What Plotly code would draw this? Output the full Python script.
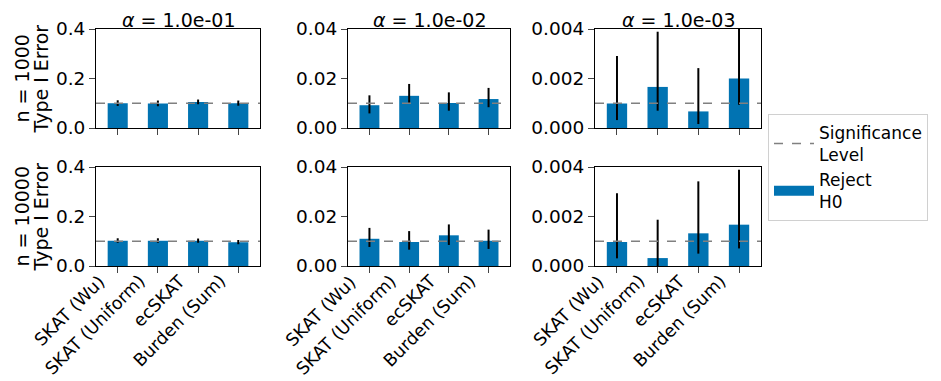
import plotly.graph_objects as go

methods = ["SKAT (Wu)", "SKAT (Uniform)", "ecSKAT", "Burden (Sum)"]
alphas = [1e-1, 1e-2, 1e-3]
alpha_titles = ["<i>α</i> = 1.0e-01", "<i>α</i> = 1.0e-02", "<i>α</i> = 1.0e-03"]
row_n_labels = ["n = 1000", "n = 10000"]
row_y_label = "Type I Error"

# n = 1000
n1000_a1 = [0.100, 0.099, 0.105, 0.100]
n1000_a1_lo = [0.089, 0.088, 0.096, 0.090]
n1000_a1_hi = [0.112, 0.111, 0.115, 0.111]
n1000_a2 = [0.0092, 0.0130, 0.0101, 0.0117]
n1000_a2_lo = [0.0059, 0.0101, 0.0070, 0.0084]
n1000_a2_hi = [0.0132, 0.0178, 0.0144, 0.0162]
n1000_a3 = [0.00099, 0.00166, 0.00067, 0.00200]
n1000_a3_lo = [0.00032, 0.00070, 0.00016, 0.00094]
n1000_a3_hi = [0.00291, 0.00389, 0.00242, 0.00400]
# n = 10000
n10000_a1 = [0.102, 0.102, 0.102, 0.096]
n10000_a1_lo = [0.094, 0.094, 0.094, 0.088]
n10000_a1_hi = [0.112, 0.112, 0.111, 0.105]
n10000_a2 = [0.0110, 0.0097, 0.0124, 0.0102]
n10000_a2_lo = [0.0077, 0.0066, 0.0085, 0.0069]
n10000_a2_hi = [0.0154, 0.0141, 0.0168, 0.0147]
n10000_a3 = [0.00097, 0.00032, 0.00132, 0.00167]
n10000_a3_lo = [0.00031, 0.00000, 0.00050, 0.00071]
n10000_a3_hi = [0.00294, 0.00187, 0.00342, 0.00389]

y_ranges = [[0, 0.4], [0, 0.04], [0, 0.004]]
y_ticks = [[0, 0.2, 0.4], [0, 0.02, 0.04], [0, 0.002, 0.004]]
y_fmt = [".1f", ".2f", ".3f"]

data = [
    [(n1000_a1, n1000_a1_lo, n1000_a1_hi), (n1000_a2, n1000_a2_lo, n1000_a2_hi), (n1000_a3, n1000_a3_lo, n1000_a3_hi)],
    [(n10000_a1, n10000_a1_lo, n10000_a1_hi), (n10000_a2, n10000_a2_lo, n10000_a2_hi), (n10000_a3, n10000_a3_lo, n10000_a3_hi)],
]

W, H = 941, 381
col_px = [(88, 252), (340, 502), (587, 753)]
row_px = [(21, 120), (159, 258)]
BAR = "#0173B2"
FONT = "DejaVu Sans"
TICK_FS = 18.5
XTICK_FS = 17.5
LABEL_FS = 19

fig = go.Figure()
layout = dict(
    width=W, height=H, margin=dict(l=0, r=0, t=0, b=0),
    plot_bgcolor="white", paper_bgcolor="white",
    font=dict(family=FONT, size=TICK_FS, color="black"),
    showlegend=True,
    legend=dict(x=760 / W, y=1 - 106 / H, xanchor="left", yanchor="top",
                bordercolor="#d0d0d0", borderwidth=1, bgcolor="white",
                font=dict(size=17), itemwidth=40),
)
annotations = []
shapes = []
xpos = list(range(len(methods)))

for r in range(2):
    for c in range(3):
        idx = r * 3 + c + 1
        xa = "x" if idx == 1 else f"x{idx}"
        ya = "y" if idx == 1 else f"y{idx}"
        vals, lo, hi = data[r][c]
        fig.add_trace(go.Bar(
            x=xpos, y=vals, xaxis=xa, yaxis=ya, marker_color=BAR,
            marker_line_width=0, width=0.5, showlegend=False,
            error_y=dict(type="data", symmetric=False,
                         array=[h - v for h, v in zip(hi, vals)],
                         arrayminus=[v - l for v, l in zip(vals, lo)],
                         color="black", thickness=2, width=0),
        ))
        x0, x1 = col_px[c]
        t0, t1 = row_px[r]
        xkey = "xaxis" if idx == 1 else f"xaxis{idx}"
        ykey = "yaxis" if idx == 1 else f"yaxis{idx}"
        layout[xkey] = dict(
            domain=[x0 / W, x1 / W], anchor=ya, range=[-0.54, 3.54],
            tickvals=xpos, ticktext=[""] * len(methods),
            ticks="outside", ticklen=6, tickwidth=1,
            showline=True, linecolor="black", linewidth=1, mirror=True,
            showgrid=False, zeroline=False, automargin=False,
        )
        layout[ykey] = dict(
            domain=[1 - t1 / H, 1 - t0 / H], anchor=xa, range=y_ranges[c],
            tickvals=y_ticks[c], tickformat=y_fmt[c],
            ticks="outside", ticklen=6, tickwidth=1,
            showline=True, linecolor="black", linewidth=1, mirror=True,
            showgrid=False, zeroline=False, automargin=False,
            tickfont=dict(size=TICK_FS),
        )
        shapes.append(dict(type="line", xref=f"{xa} domain", yref=ya,
                           x0=0, x1=1, y0=alphas[c], y1=alphas[c],
                           line=dict(color="gray", width=1.5, dash="dash"),
                           layer="above"))
        if r == 0:
            annotations.append(dict(text=alpha_titles[c], x=(x0 + x1) / 2 / W,
                                    y=1 - t0 / H, xref="paper", yref="paper",
                                    xanchor="center", yanchor="bottom",
                                    showarrow=False, yshift=-3, borderpad=0,
                                    font=dict(size=LABEL_FS)))
        if r == 1:
            for xi, name in zip(xpos, methods):
                annotations.append(dict(text=name, x=xi, xref=xa,
                                        y=1 - t1 / H, yref="paper",
                                        xanchor="right", yanchor="top",
                                        textangle=-45, showarrow=False,
                                        yshift=-4, xshift=-8, borderpad=0,
                                        font=dict(size=XTICK_FS)))
    yc = 1 - (row_px[r][0] + row_px[r][1]) / 2 / H
    annotations.append(dict(text=row_n_labels[r], x=13 / W, y=yc,
                            xref="paper", yref="paper", xanchor="center",
                            yanchor="middle", textangle=-90, showarrow=False,
                            font=dict(size=LABEL_FS)))
    annotations.append(dict(text=row_y_label, x=32 / W, y=yc,
                            xref="paper", yref="paper", xanchor="center",
                            yanchor="middle", textangle=-90, showarrow=False,
                            font=dict(size=LABEL_FS)))

# legend entries
fig.add_trace(go.Scatter(x=[None], y=[None], mode="lines",
                         line=dict(color="gray", width=1.5, dash="dash"),
                         name="Significance<br>Level", legendrank=1))
fig.add_trace(go.Scatter(x=[None], y=[None], mode="lines",
                         line=dict(color=BAR, width=12),
                         name="Reject<br>H0", legendrank=2))

layout["annotations"] = annotations
layout["shapes"] = shapes
fig.update_layout(**layout)
fig.write_html("out.html")
